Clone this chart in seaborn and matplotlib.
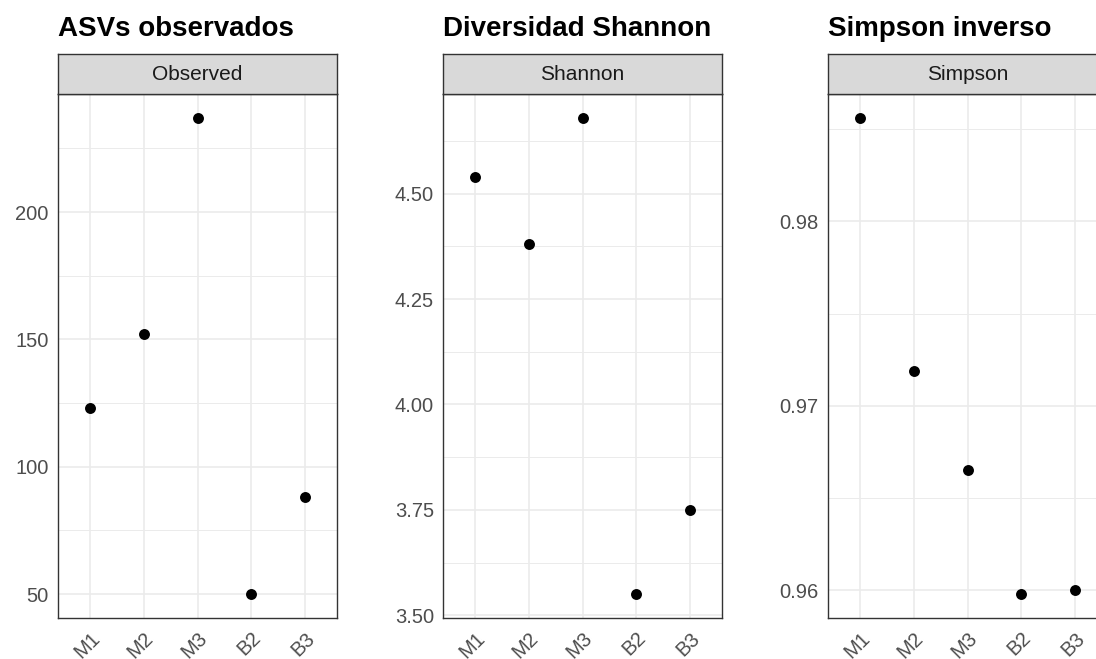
import matplotlib
matplotlib.use("Agg")
import matplotlib.pyplot as plt
import seaborn as sns
import pandas as pd
from matplotlib.ticker import FixedLocator

# Alpha-diversity measures per sample
muestras = ["M1", "M2", "M3", "B2", "B3"]
observed = [123, 152, 237, 50, 88]
shannon = [4.54, 4.38, 4.68, 3.55, 3.75]
simpson = [0.9856, 0.9719, 0.9665, 0.9598, 0.96005]

titulos = ["ASVs observados", "Diversidad Shannon", "Simpson inverso"]
facetas = ["Observed", "Shannon", "Simpson"]
ticks_mayores = [[50, 100, 150, 200],
                 [3.50, 3.75, 4.00, 4.25, 4.50],
                 [0.96, 0.97, 0.98]]
ticks_menores = [[75, 125, 175, 225],
                 [3.625, 3.875, 4.125, 4.375, 4.625],
                 [0.965, 0.975, 0.985]]
formatos = ["{:.0f}", "{:.2f}", "{:.2f}"]
valores = [observed, shannon, simpson]

sns.set_theme(style="white")
plt.rcParams["font.family"] = ["Liberation Sans", "DejaVu Sans"]

W, H = 1096, 659
fig = plt.figure(figsize=(W / 100, H / 100), dpi=100)
fig.patch.set_facecolor("white")


def caja(x0, y0, x1, y1):
    """Pixel box (top-left origin) -> figure fraction rect."""
    return [x0 / W, 1 - y1 / H, (x1 - x0) / W, (y1 - y0) / H]


lefts = [58, 443, 828]
ancho = 279
top_panel, bottom_panel = 94, 618
top_strip = 54

borde = "#333333"
rejilla = "#EBEBEB"
texto_eje = "#4D4D4D"

for i in range(3):
    x0 = lefts[i]
    ax = fig.add_axes(caja(x0, top_panel, x0 + ancho, bottom_panel))
    df = pd.DataFrame({"muestra": muestras, "valor": valores[i]})
    df["muestra"] = pd.Categorical(df["muestra"], categories=muestras, ordered=True)

    # grid first so the points sit on top
    ax.set_axisbelow(True)
    sns.scatterplot(data=df, x="muestra", y="valor", ax=ax, color="black",
                    s=62, edgecolor="black", linewidth=0, zorder=3, legend=False)

    vmin, vmax = min(valores[i]), max(valores[i])
    rango = vmax - vmin
    ax.set_ylim(vmin - 0.05 * rango, vmax + 0.05 * rango)
    ax.set_xlim(-0.6, len(muestras) - 0.4)

    ax.yaxis.set_major_locator(FixedLocator(ticks_mayores[i]))
    ax.yaxis.set_minor_locator(FixedLocator(ticks_menores[i]))
    ax.set_yticklabels([formatos[i].format(v) for v in ticks_mayores[i]])
    ax.set_xticks(range(len(muestras)))
    ax.set_xticklabels(muestras)

    ax.grid(which="major", axis="both", color=rejilla, linewidth=1.2)
    ax.grid(which="minor", axis="y", color=rejilla, linewidth=0.7)

    for sp in ax.spines.values():
        sp.set_color(borde)
        sp.set_linewidth(1.0)
        sp.set_visible(True)

    ax.tick_params(axis="both", which="major", direction="out", length=3.6,
                   width=0.9, color=borde, labelcolor=texto_eje, labelsize=14.5)
    ax.tick_params(axis="y", which="major", pad=3)
    ax.tick_params(axis="x", which="major", pad=4)
    ax.tick_params(which="minor", length=0)
    for lab in ax.get_xticklabels():
        lab.set_rotation(45)
        lab.set_rotation_mode("anchor")
        lab.set_ha("right")
        lab.set_va("top")
    ax.set_xlabel("")
    ax.set_ylabel("")
    ax.set_facecolor("white")

    # facet strip
    st = fig.add_axes(caja(x0, top_strip, x0 + ancho, top_panel))
    st.set_facecolor("#D9D9D9")
    st.set_xticks([])
    st.set_yticks([])
    for sp in st.spines.values():
        sp.set_color(borde)
        sp.set_linewidth(1.0)
        sp.set_visible(True)
    st.text(0.5, 0.48, facetas[i], ha="center", va="center", fontsize=15,
            color="#1A1A1A", transform=st.transAxes)

    # panel title
    fig.text(x0 / W, 1 - 36 / H, titulos[i], ha="left", va="baseline",
             fontsize=20, fontweight="bold", color="black")

fig.savefig("out.png", dpi=100, facecolor="white")
